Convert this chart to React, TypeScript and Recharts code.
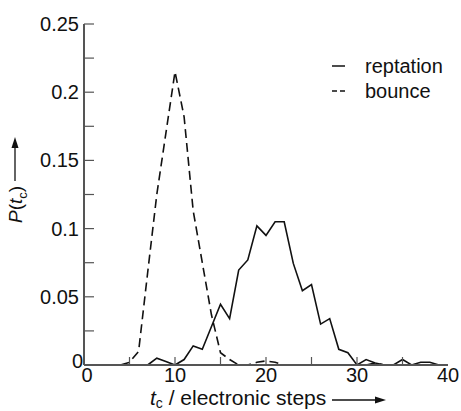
import { Label, Legend, Line, LineChart, XAxis, YAxis } from 'recharts';

const steps = [4, 5, 6, 7, 8, 9, 10, 11, 12, 13, 14, 15, 16, 17, 18, 19, 20, 21, 22, 23, 24, 25, 26, 27, 28, 29, 30, 31, 32, 33, 34, 35, 36, 37, 38, 39];
const reptation = [null, null, null, 0, 0.005, 0.0025, 0, 0.004, 0.014, 0.0115, 0.028, 0.0445, 0.034, 0.0696, 0.077, 0.102, 0.095, 0.105, 0.105, 0.0745, 0.0545, 0.059, 0.03, 0.034, 0.0115, 0.009, 0, 0.004, 0.0015, 0, 0, 0.004, 0, 0.002, 0.002, 0];
const bounce = [0, 0.002, 0.01, 0.068, 0.125, 0.17, 0.215, 0.182, 0.113, 0.075, 0.037, 0.009, 0.004, 0, 0, 0.002, 0.003, 0.002, 0, null, null, null, null, null, null, null, null, 0, 0.0015, 0, null, null, null, null, null, null];

const xTicks = [0, 5, 10, 15, 20, 25, 30, 35, 40];
const xTickLabels = ['0', '10', '20', '30', '40'];
const yTicks = [0, 0.025, 0.05, 0.075, 0.1, 0.125, 0.15, 0.175, 0.2, 0.225, 0.25];
const yTickLabels = ['0', '0.05', '0.1', '0.15', '0.2', '0.25'];

const FONT = '"Liberation Sans", Arial, sans-serif';
const INK = '#111';
const AXIS = '#555';

const data = steps.map((t, i) => ({ t, reptation: reptation[i], bounce: bounce[i] }));

function YTick(props: any) {
  const { x, y, payload } = props;
  const ax = x + 5;
  const label = yTickLabels.find((l) => Math.abs(Number(l) - payload.value) < 1e-9);
  return (
    <g>
      <line x1={ax} x2={ax + 10} y1={y} y2={y} stroke={AXIS} strokeWidth={1.2} />
      {label !== undefined && (
        <text x={label === '0' ? x + 4 : x} y={label === '0' ? y - 4 : y} dy={7} textAnchor="end" fontSize={20} fontFamily={FONT} fill={INK}>
          {label}
        </text>
      )}
    </g>
  );
}

function XTick(props: any) {
  const { x, y, payload } = props;
  const ay = y - 2;
  const label = xTickLabels.find((l) => Number(l) === payload.value);
  const edge = payload.value === 0 || payload.value === 40;
  return (
    <g>
      {!edge && <line x1={x} x2={x} y1={ay} y2={ay - 8} stroke={AXIS} strokeWidth={1.2} />}
      {label !== undefined && (
        <text x={payload.value === 0 ? x + 3 : x} y={y} dy={15} textAnchor="middle" fontSize={20} fontFamily={FONT} fill={INK}>
          {label}
        </text>
      )}
    </g>
  );
}

function XTitle() {
  return (
    <g fontFamily={FONT} fill={INK} fontSize={21}>
      <text x={150} y={405}>
        <tspan fontStyle="italic">t</tspan>
        <tspan fontSize={14} dy={3}>c</tspan>
        <tspan dy={-3}> / electronic steps</tspan>
      </text>
      <line x1={332} x2={378} y1={400} y2={400} stroke={INK} strokeWidth={1.3} />
      <path d="M386,400 L375,396.5 L375,403.5 Z" fill={INK} />
    </g>
  );
}

function YTitle() {
  return (
    <g fontFamily={FONT} fill={INK} fontSize={19}>
      <text x={0} y={0} transform="translate(22,223) rotate(-90)">
        <tspan fontStyle="italic">P</tspan>
        <tspan>(</tspan>
        <tspan fontStyle="italic">t</tspan>
        <tspan fontSize={13} dy={5}>c</tspan>
        <tspan dy={-5}>)</tspan>
      </text>
      <line x1={15} x2={15} y1={181} y2={146} stroke={INK} strokeWidth={1.3} />
      <path d="M15,137 L11.5,148 L18.5,148 Z" fill={INK} />
    </g>
  );
}

function LegendBox() {
  return (
    <svg width={130} height={50} style={{ fontFamily: FONT, display: 'block' }}>
      <line x1={2} x2={15} y1={15} y2={15} stroke={INK} strokeWidth={1.5} />
      <text x={35} y={22} fontSize={20} fill={INK}>reptation</text>
      <line x1={2} x2={15} y1={40} y2={40} stroke={INK} strokeWidth={1.5} strokeDasharray="5 3" />
      <text x={35} y={47} fontSize={20} fill={INK}>bounce</text>
    </svg>
  );
}

export default function App() {
  return (
    <div style={{ position: 'absolute', left: 0, top: 0, width: 461, height: 411, background: '#fff' }}>
      <LineChart width={461} height={411} data={data} margin={{ top: 24, right: 13, bottom: 0, left: 0 }}>
        <XAxis
          dataKey="t"
          type="number"
          domain={[0, 40]}
          ticks={xTicks}
          interval={0}
          height={46}
          tickSize={0}
          tickMargin={2}
          tickLine={false}
          tick={<XTick />}
          axisLine={{ stroke: AXIS, strokeWidth: 2 }}
        >
          <Label content={<XTitle />} />
        </XAxis>
        <YAxis
          type="number"
          domain={[0, 0.25]}
          ticks={yTicks}
          interval={0}
          width={84}
          tickSize={0}
          tickMargin={5}
          tickLine={false}
          tick={<YTick />}
          axisLine={{ stroke: AXIS, strokeWidth: 2 }}
        >
          <Label content={<YTitle />} />
        </YAxis>
        <Legend
          layout="horizontal"
          verticalAlign="middle"
          align="center"
          wrapperStyle={{ position: 'absolute', left: 330, top: 51, width: 130, height: 50 }}
          content={() => <LegendBox />}
        />
        <Line dataKey="reptation" type="linear" stroke={INK} strokeWidth={1.6} dot={false} isAnimationActive={false} connectNulls={false} />
        <Line dataKey="bounce" type="linear" stroke={INK} strokeWidth={1.6} strokeDasharray="9 5" dot={false} isAnimationActive={false} connectNulls={false} />
      </LineChart>
    </div>
  );
}
